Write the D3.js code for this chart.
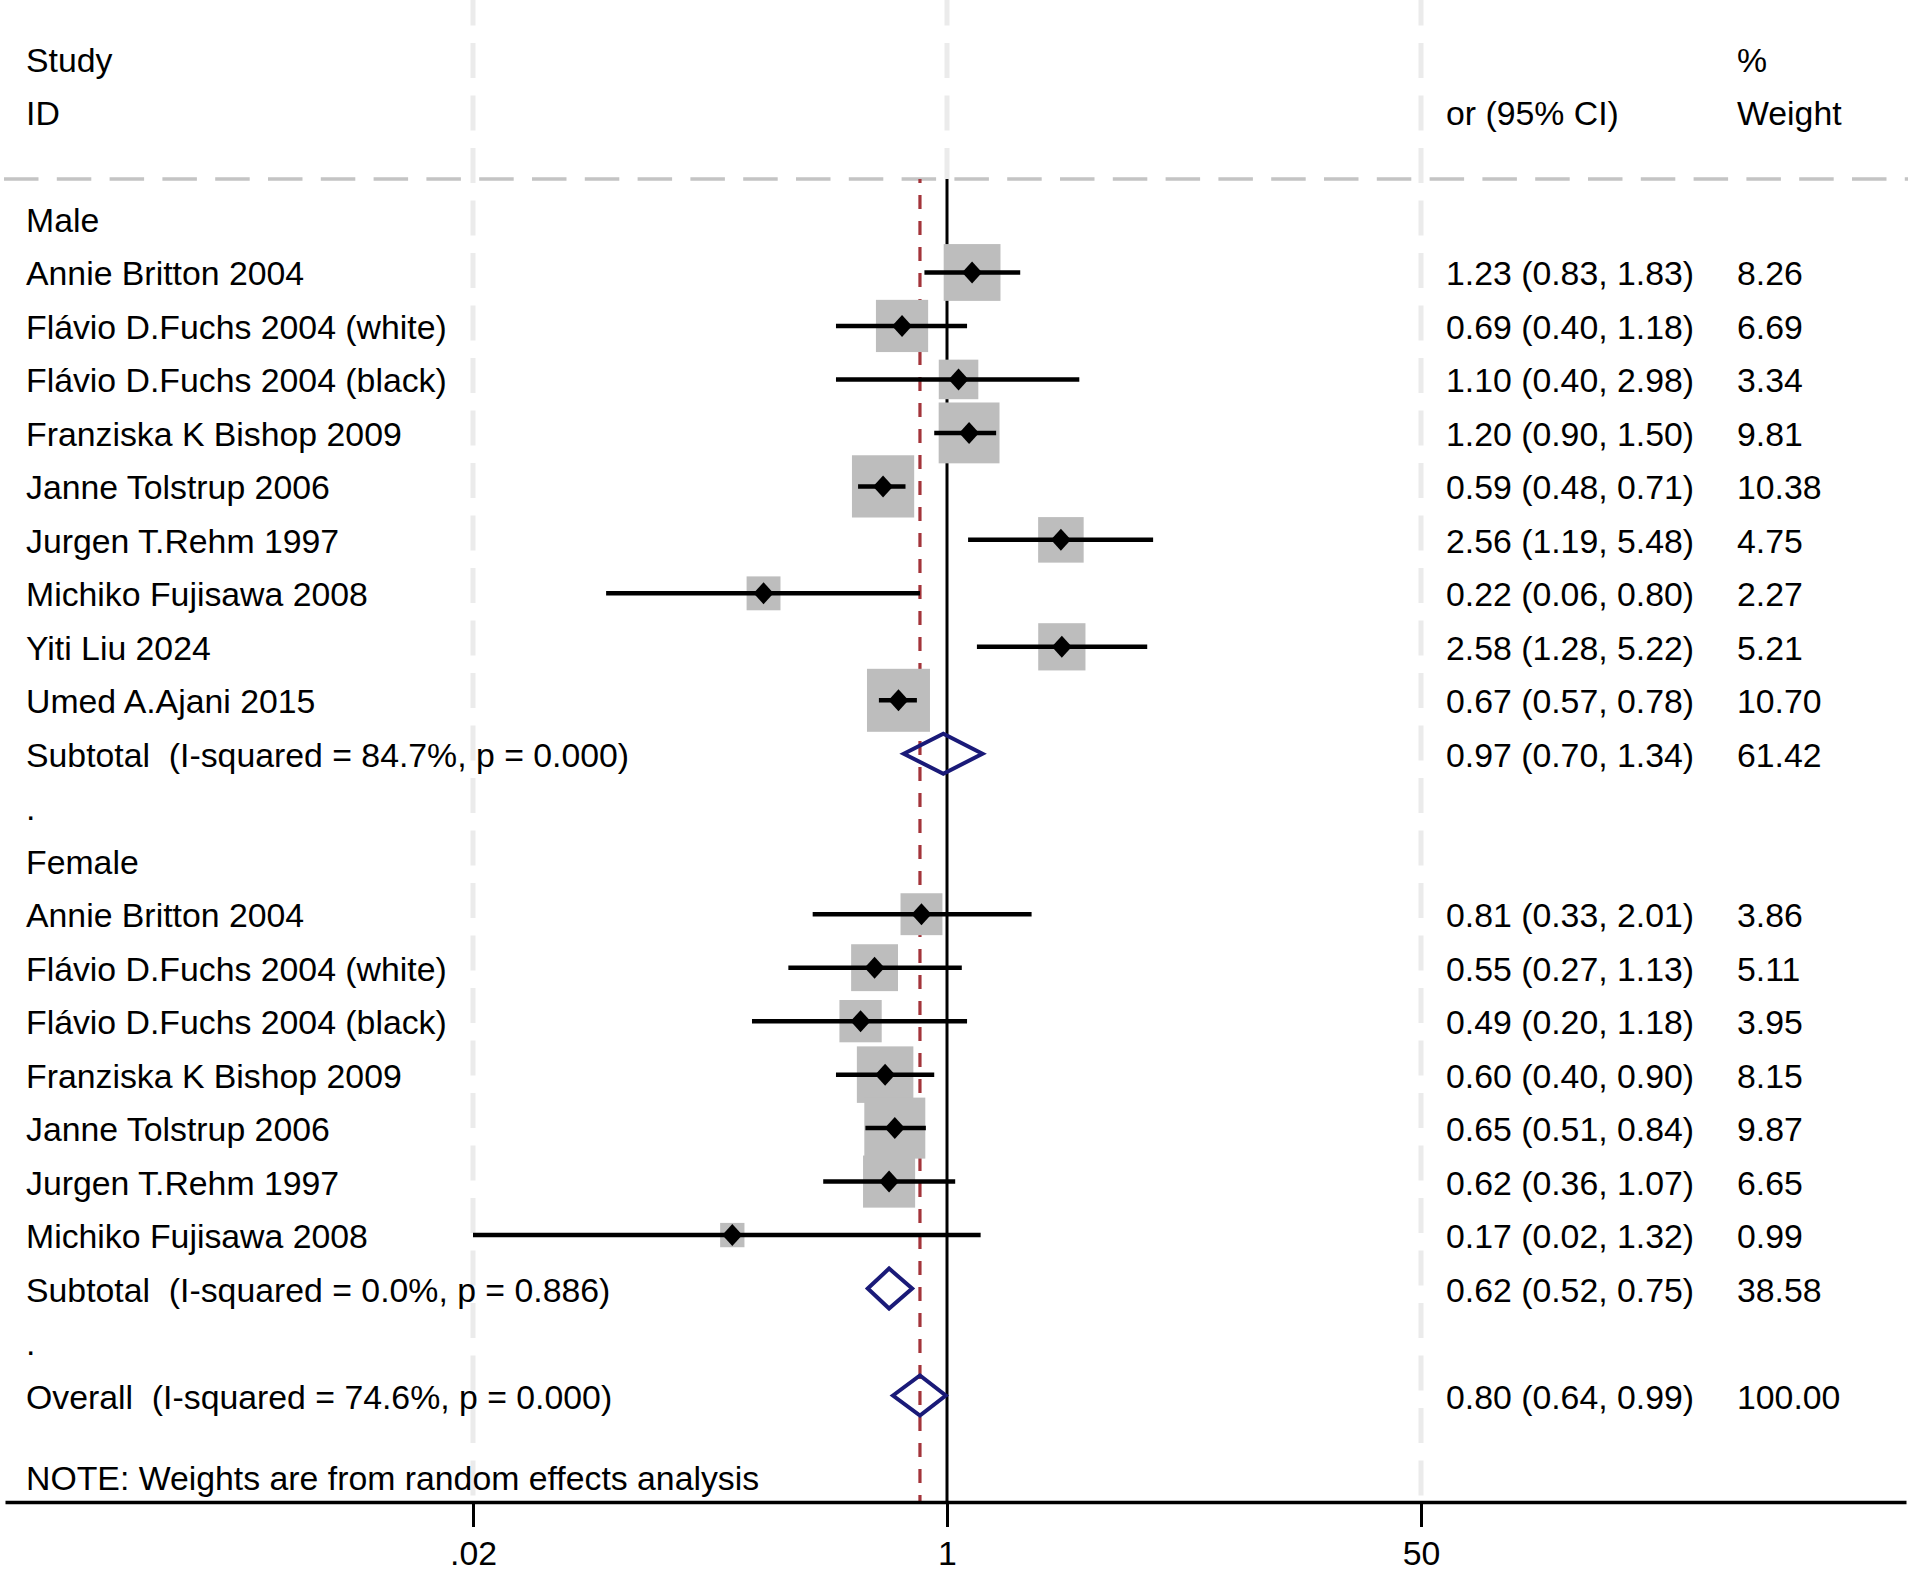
<!DOCTYPE html>
<html>
<head>
<meta charset="utf-8">
<script src="https://cdn.jsdelivr.net/npm/d3@7"></script>
<style>
  html, body { margin: 0; padding: 0; background: #ffffff; }
  svg text { font-family: "Liberation Sans", Arial, sans-serif; fill: #000; white-space: pre; }
</style>
</head>
<body>
<svg id="chart" width="1908" height="1574"></svg>
<script>
// ---------------- data ----------------
const rowLabels = [
  "Male",
  "Annie Britton 2004",
  "Flávio D.Fuchs 2004 (white)",
  "Flávio D.Fuchs 2004 (black)",
  "Franziska K Bishop 2009",
  "Janne Tolstrup 2006",
  "Jurgen T.Rehm 1997",
  "Michiko Fujisawa 2008",
  "Yiti Liu 2024",
  "Umed A.Ajani 2015",
  "Subtotal  (I-squared = 84.7%, p = 0.000)",
  ".",
  "Female",
  "Annie Britton 2004",
  "Flávio D.Fuchs 2004 (white)",
  "Flávio D.Fuchs 2004 (black)",
  "Franziska K Bishop 2009",
  "Janne Tolstrup 2006",
  "Jurgen T.Rehm 1997",
  "Michiko Fujisawa 2008",
  "Subtotal  (I-squared = 0.0%, p = 0.886)",
  ".",
  "Overall  (I-squared = 74.6%, p = 0.000)"
];
const rowTypes = [
  "group","study","study","study","study","study","study","study","study","study","subtotal","blank",
  "group","study","study","study","study","study","study","study","subtotal","blank","overall"
];
const orValues = [null,1.23,0.69,1.10,1.20,0.59,2.56,0.22,2.58,0.67,0.97,null,
                  null,0.81,0.55,0.49,0.60,0.65,0.62,0.17,0.62,null,0.80];
const lowerCI  = [null,0.83,0.40,0.40,0.90,0.48,1.19,0.06,1.28,0.57,0.70,null,
                  null,0.33,0.27,0.20,0.40,0.51,0.36,0.02,0.52,null,0.64];
const upperCI  = [null,1.83,1.18,2.98,1.50,0.71,5.48,0.80,5.22,0.78,1.34,null,
                  null,2.01,1.13,1.18,0.90,0.84,1.07,1.32,0.75,null,0.99];
const weights  = [null,8.26,6.69,3.34,9.81,10.38,4.75,2.27,5.21,10.70,61.42,null,
                  null,3.86,5.11,3.95,8.15,9.87,6.65,0.99,38.58,null,100.00];
const tickValues = [0.02, 1, 50];
const tickLabels = [".02", "1", "50"];
const headerLeft = ["Study", "ID"];
const headerCI = "or (95% CI)";
const headerWeight = ["%", "Weight"];
const noteText = "NOTE: Weights are from random effects analysis";

// ---------------- layout ----------------
const W = 1908, H = 1574;
const FONT = 33.8;
const svg = d3.select("#chart");
svg.append("rect").attr("width", W).attr("height", H).attr("fill", "#fff");

const x = d3.scaleLog().domain([0.02, 50]).range([473, 1421]);
const y = d3.scaleLinear().domain([0, rowLabels.length - 1]).range([219, 1395.5]);
const axisY = 1502, topLineY = 179;
const boxSide = d3.scalePow().exponent(0.4).domain([0, 10.70]).range([0, 63]);

const labelX = 26, ciX = 1446, wX = 1737;

// vertical light gridlines
const grid = svg.append("g");
tickValues.forEach(v => {
  grid.append("line")
    .attr("x1", x(v)).attr("x2", x(v))
    .attr("y1", 0).attr("y2", v === 1 ? topLineY : axisY)
    .attr("stroke", "#ebebeb").attr("stroke-width", 5)
    .attr("stroke-dasharray", "35,17.5").attr("stroke-dashoffset", 9.5);
});

// horizontal dashed separator
svg.append("line")
  .attr("x1", 4).attr("x2", W).attr("y1", topLineY).attr("y2", topLineY)
  .attr("stroke", "#c4c4c4").attr("stroke-width", 3.5)
  .attr("stroke-dasharray", "34.5,18.3");

// null line at 1
svg.append("line")
  .attr("x1", x(1)).attr("x2", x(1)).attr("y1", topLineY).attr("y2", axisY)
  .attr("stroke", "#000").attr("stroke-width", 3);

// overall estimate dashed line
const overallIdx = rowTypes.indexOf("overall");
svg.append("line")
  .attr("x1", x(orValues[overallIdx])).attr("x2", x(orValues[overallIdx]))
  .attr("y1", topLineY).attr("y2", axisY)
  .attr("stroke", "#a3343a").attr("stroke-width", 3.2)
  .attr("stroke-dasharray", "14,12").attr("stroke-dashoffset", 10);

// studies
const idx = d3.range(rowLabels.length);
const studies = idx.filter(i => rowTypes[i] === "study");

svg.append("g").selectAll("rect").data(studies).join("rect")
  .attr("x", i => x(orValues[i]) - boxSide(weights[i]) / 2)
  .attr("y", i => y(i) - boxSide(weights[i]) / 2)
  .attr("width", i => boxSide(weights[i]))
  .attr("height", i => boxSide(weights[i]))
  .attr("fill", "#bdbdbd");

svg.append("g").selectAll("line").data(studies).join("line")
  .attr("x1", i => x(lowerCI[i])).attr("x2", i => x(upperCI[i]))
  .attr("y1", i => y(i)).attr("y2", i => y(i))
  .attr("stroke", "#000").attr("stroke-width", 4.5);

svg.append("g").selectAll("path").data(studies).join("path")
  .attr("d", i => {
    const cx = x(orValues[i]), cy = y(i);
    return `M${cx - 10},${cy}L${cx},${cy - 11}L${cx + 10},${cy}L${cx},${cy + 11}Z`;
  })
  .attr("fill", "#000");

// pooled diamonds
const pooled = idx.filter(i => rowTypes[i] === "subtotal" || rowTypes[i] === "overall");
svg.append("g").selectAll("path").data(pooled).join("path")
  .attr("d", i => {
    const cy = y(i);
    return `M${x(lowerCI[i])},${cy}L${x(orValues[i])},${cy - 20}L${x(upperCI[i])},${cy}L${x(orValues[i])},${cy + 20}Z`;
  })
  .attr("fill", "none").attr("stroke", "#1a1a78").attr("stroke-width", 4)
  .attr("stroke-linejoin", "miter");

// texts
const txt = svg.append("g").attr("font-size", FONT);
txt.append("text").attr("x", labelX).attr("y", 71.5).text(headerLeft[0]);
txt.append("text").attr("x", labelX).attr("y", 125).text(headerLeft[1]);
txt.append("text").attr("x", ciX).attr("y", 125).text(headerCI);
txt.append("text").attr("x", wX).attr("y", 71.5).text(headerWeight[0]);
txt.append("text").attr("x", wX).attr("y", 125).text(headerWeight[1]);

txt.selectAll("text.lab").data(idx).join("text").attr("class", "lab")
  .attr("x", labelX).attr("y", i => y(i) + 13).text(i => rowLabels[i]);

const valued = idx.filter(i => orValues[i] !== null);
txt.selectAll("text.ci").data(valued).join("text").attr("class", "ci")
  .attr("x", ciX).attr("y", i => y(i) + 13)
  .text(i => `${orValues[i].toFixed(2)} (${lowerCI[i].toFixed(2)}, ${upperCI[i].toFixed(2)})`);
txt.selectAll("text.w").data(valued).join("text").attr("class", "w")
  .attr("x", wX).attr("y", i => y(i) + 13)
  .text(i => weights[i].toFixed(2));

txt.append("text").attr("x", labelX).attr("y", 1490).text(noteText);

// axis
const axisScale = x.copy().domain([x.invert(5), x.invert(1906)]).range([5, 1906]);
const axis = d3.axisBottom(axisScale)
  .tickValues(tickValues)
  .tickFormat((d, i) => tickLabels[i])
  .tickSize(25).tickSizeOuter(0).tickPadding(14);
const ax = svg.append("g").attr("transform", `translate(0,${axisY})`).call(axis);
ax.select(".domain").attr("stroke", "#000").attr("stroke-width", 3.5);
ax.selectAll(".tick line").attr("stroke", "#000").attr("stroke-width", 3);
ax.selectAll(".tick text")
  .attr("font-size", FONT)
  .attr("font-family", '"Liberation Sans", Arial, sans-serif')
  .attr("fill", "#000");
</script>
</body>
</html>
